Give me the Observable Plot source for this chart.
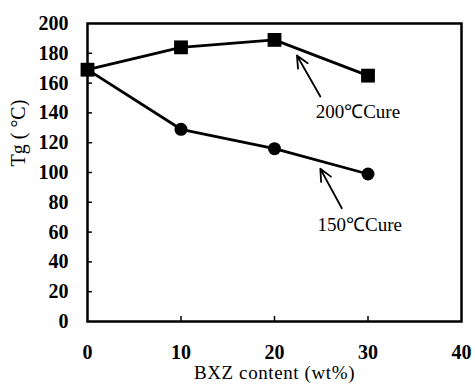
<!DOCTYPE html>
<html>
<head>
<meta charset="utf-8">
<script src="https://cdn.jsdelivr.net/npm/d3@7"></script>
<script src="https://cdn.jsdelivr.net/npm/@observablehq/plot@0.6"></script>
<style>
  html, body { margin: 0; padding: 0; background: #fff; }
  svg { display: block; }
  svg, svg text { font-family: "Liberation Serif", "Times New Roman", serif !important; }
  .xtitle text { letter-spacing: 0.6px; }
</style>
</head>
<body>
<div id="chart"></div>
<script>
const bxz = [0, 10, 20, 30];
const tg200 = [169, 184, 189, 165];
const tg150 = [169, 129, 116, 99];
const xTicks = [0, 10, 20, 30, 40];
const yTicks = [0, 20, 40, 60, 80, 100, 120, 140, 160, 180, 200];
const seriesLabels = ["200\u2103Cure", "150\u2103Cure"];
// annotation arrows: [x1, y1, x2, y2] in data units, and label anchor [x, y]
const arrow200 = [24.9, 151, 22.4, 178.5];
const arrow150 = [27.2, 76, 24.9, 102.5];
const label200 = [24.4, 141];
const label150 = [24.6, 65];

const d200 = bxz.map((x, i) => ({x, y: tg200[i]}));
const d150 = bxz.map((x, i) => ({x, y: tg150[i]}));
const arrows = [arrow200, arrow150].map(a => ({x1: a[0], y1: a[1], x2: a[2], y2: a[3]}));
const labels = [
  {x: label200[0], y: label200[1], t: seriesLabels[0]},
  {x: label150[0], y: label150[1], t: seriesLabels[1]}
];
const serif = "Liberation Serif";

const chart = Plot.plot({
  width: 475,
  height: 392,
  marginLeft: 87,
  marginRight: 14,
  marginTop: 23,
  marginBottom: 71,
  style: {fontSize: "17px", color: "#000", background: "#fff"},
  x: {domain: [0, 40], axis: null},
  y: {domain: [0, 200], axis: null},
  marks: [
    Plot.frame({stroke: "#000", strokeWidth: 2.5}),
    Plot.axisY(yTicks, {tickSize: 0, tickPadding: 19, label: null, fontSize: 20, fontWeight: "bold", fontFamily: serif}),
    Plot.axisY(yTicks.slice(1, -1), {tickSize: -5, tickFormat: () => "", label: null, strokeWidth: 1.5}),
    Plot.axisX(xTicks, {tickSize: 0, tickPadding: 23, label: null, fontSize: 20, fontWeight: "bold", fontFamily: serif}),
    Plot.axisX(xTicks.slice(1, -1), {tickSize: -5, tickFormat: () => "", label: null, strokeWidth: 1.5}),
    Plot.text(["BXZ content (wt%)"], {frameAnchor: "bottom", dy: 57, fontSize: 19, fontFamily: serif, className: "xtitle"}),
    Plot.text(["Tg ( \u00B0C)"], {frameAnchor: "left", dx: -69, dy: -6, rotate: -90, fontSize: 20, fontFamily: serif}),
    Plot.line(d200, {x: "x", y: "y", stroke: "#000", strokeWidth: 2.8}),
    Plot.line(d150, {x: "x", y: "y", stroke: "#000", strokeWidth: 2.8}),
    Plot.dot(d200, {x: "x", y: "y", symbol: "square", r: 7.8, fill: "#000"}),
    Plot.dot(d150, {x: "x", y: "y", symbol: "circle", r: 6.5, fill: "#000"}),
    Plot.arrow(arrows, {x1: "x1", y1: "y1", x2: "x2", y2: "y2", stroke: "#000", strokeWidth: 1.8, headLength: 11, headAngle: 50}),
    Plot.text(labels, {x: "x", y: "y", text: "t", textAnchor: "start", fontSize: 19, fontFamily: serif})
  ]
});
document.getElementById("chart").appendChild(chart);
</script>
</body>
</html>
